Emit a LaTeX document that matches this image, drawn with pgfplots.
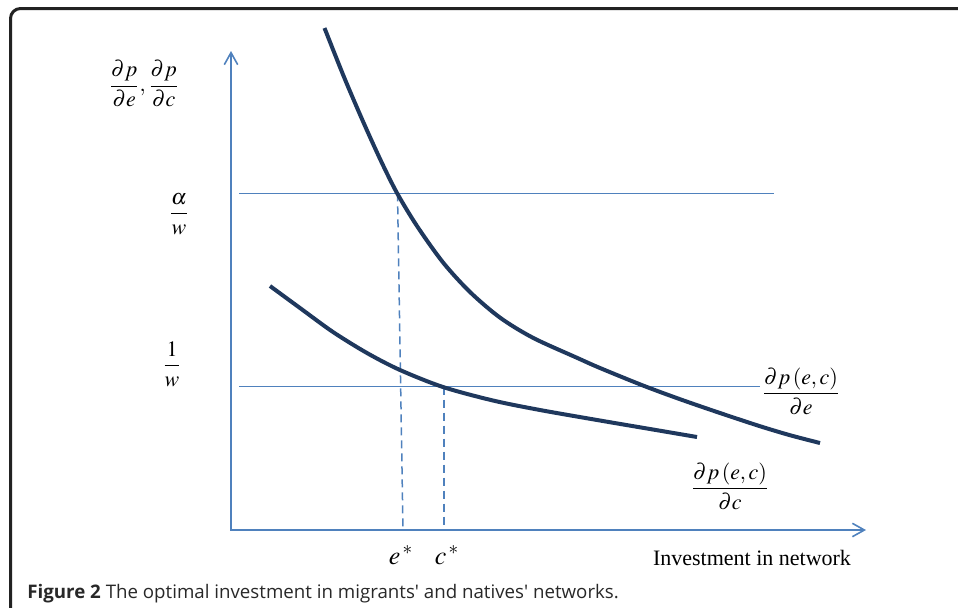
\documentclass[border=0pt]{standalone}
\usepackage{amsmath}
\usepackage{mathptmx}
\usepackage[no-math]{fontspec}
\setmainfont{Liberation Serif}
\newfontfamily\capfont{Open Sans}
\usepackage{pgfplots}
\pgfplotsset{compat=1.18}
\usetikzlibrary{arrows.meta}
\definecolor{axisblue}{RGB}{79,129,189}
\definecolor{curvenavy}{RGB}{31,56,93}
\definecolor{framegray}{RGB}{34,34,34}
\definecolor{captext}{RGB}{40,40,40}

\begin{document}
\fontsize{11}{13}\selectfont
\begin{tikzpicture}
\begin{axis}[
  width=479pt, height=303.5pt, scale only axis,
  xmin=0, xmax=958, ymin=0, ymax=607, y dir=reverse,
  hide axis, clip=true,
]
% rounded panel frame
\addplot[framegray, line width=1.5pt, rounded corners=5pt] coordinates {(10.5,660) (10.5,8.5) (1000,8.5)};

% axes
\addplot[axisblue, line width=0.8pt, -{Straight Barb[length=6pt,width=6.7pt,line width=0.8pt]}] coordinates {(231,530.5) (231,51)};
\addplot[axisblue, line width=0.8pt, -{Straight Barb[length=6pt,width=6.7pt,line width=0.8pt]}] coordinates {(230.6,530) (866,530)};

% marginal cost levels
\addplot[axisblue, line width=0.75pt] coordinates {(239,193.3) (774,193.3)};
\addplot[axisblue, line width=0.75pt] coordinates {(239,386.7) (760,386.7)};

% optimal investments
\addplot[axisblue, line width=0.75pt, dash pattern=on 4pt off 2.5pt] coordinates {(397.5,193.3) (403,530)};
\addplot[axisblue, line width=0.75pt, dash pattern=on 4pt off 2.5pt] coordinates {(444,386.7) (444,530)};

% marginal benefit of migrants' network
\addplot[curvenavy, line width=2pt, smooth, tension=0.5] coordinates {
  (324.5,28) (344,77) (363,121.4) (381,161) (397,193) (417,226)
  (443,262.4) (470,292) (500,317.6) (533,337.8) (577,357.8) (600,368)
  (643,385.5) (680,399.2) (720,413) (760,426.2) (790,435.2) (820,443)
};
% marginal benefit of natives' network
\addplot[curvenavy, line width=2pt, smooth, tension=0.5] coordinates {
  (270,286) (300,308) (333,332) (367,353) (400,370) (443,387)
  (493,400.5) (540,410) (600,420.5) (650,429) (697,437)
};

% labels
\node at (144,84) {$\dfrac{\partial p}{\partial e},\dfrac{\partial p}{\partial c}$};
\node at (179,214) {$\dfrac{\alpha}{w}$};
\node at (172,364) {$\dfrac{1}{w}$};
\node at (801,391) {$\dfrac{\partial p\left(e,c\right)}{\partial e}$};
\node at (730,486) {$\dfrac{\partial p\left(e,c\right)}{\partial c}$};
\node[anchor=base, font=\fontsize{13}{15}\selectfont] at (401,564) {$e^{\,*}$};
\node[anchor=base, font=\fontsize{13}{15}\selectfont] at (447,564) {$c^{\,*}$};
\node[anchor=base] at (752,565) {Investment in network};

% caption
\node[anchor=base west, inner sep=0pt, text=captext,
      font={\capfont\fontsize{9.35}{11}\selectfont}] at (27,598)
  {\textbf{Figure 2} The optimal investment in migrants' and natives' networks.};
\end{axis}
\pgfresetboundingbox
\useasboundingbox (current axis.south west) rectangle (current axis.north east);
\end{tikzpicture}
\end{document}
